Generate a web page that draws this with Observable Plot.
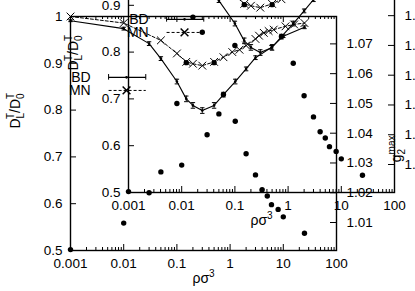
<!DOCTYPE html>
<html><head><meta charset="utf-8">
<script src="https://cdn.jsdelivr.net/npm/d3@7"></script>
<script src="https://cdn.jsdelivr.net/npm/@observablehq/plot@0.6"></script>
<style>
body{margin:0;background:#fff;}
#wrap{position:relative;width:415px;height:291px;overflow:hidden;background:#fff;}
#wrap svg{position:absolute;background:transparent;max-width:none;}
</style></head><body><div id="wrap"></div>
<script>
// D_L^T/D_0^T, Brownian dynamics (BD), with error bars
const bdRho = [0.001,0.01,0.03,0.05,0.1,0.15,0.2,0.3,0.5,0.75,1.25,2,3,6,10,25];
const bdVal = [0.991,0.974,0.942,0.910,0.861,0.824,0.810,0.799,0.810,0.833,0.861,0.888,0.912,0.934,0.958,0.977];
const bdErr = [0.002,0.003,0.004,0.004,0.005,0.006,0.006,0.006,0.006,0.005,0.005,0.004,0.004,0.004,0.003,0.003];
// D_L^T/D_0^T, MN
const mnRho = [0.001,0.01,0.05,0.1,0.15,0.2,0.3,0.5,0.75,1.1,1.5,2,3,3.5,4.3,5.3,6.6,11,16,25];
const mnVal = [1.0,0.986,0.949,0.921,0.903,0.899,0.895,0.903,0.913,0.924,0.929,0.938,0.952,0.959,0.965,0.969,0.972,0.979,0.983,0.986];
// g2^max (right axis)
const gRho = [0.001,0.01,0.03,0.05,0.1,0.15,0.2,0.3,0.5,0.75,1.25,2,3,4,5,6,8,10,25];
const gVal = [1.0009,1.0098,1.020,1.027,1.050,1.0637,1.0790,1.0739,1.0637,1.053,1.044,1.0331,1.026,1.021,1.0189,1.016,1.0144,1.0119,1.0064];
// ticks
const xTicks = [0.001,0.01,0.1,1,10,100];
const xTickLabels = ["0.001","0.01","0.1","1","10","100"];
const yTicks = [0.5,0.6,0.7,0.8,0.9,1];
const yTickLabels = ["0.5","0.6","0.7","0.8","0.9","1"];
const gTicks = [1.01,1.02,1.03,1.04,1.05,1.06,1.07];
const gTickLabels = ["1.01","1.02","1.03","1.04","1.05","1.06","1.07"];
const gDomain = [1.0006,1.0792];
const yDomain = [0.5,1];
// legend
const keyLabels = ["BD","MN"];
const keyY = [0.870,0.842];
const keyTextX = 0.0024, keyX1 = 0.0052, keyXm = 0.0113, keyX2 = 0.026;

const toY = g => yDomain[0] + (g - gDomain[0]) / (gDomain[1] - gDomain[0]) * (yDomain[1] - yDomain[0]);
const bd = bdRho.map((r,i)=>({rho:r, v:bdVal[i], e:bdErr[i]}));
const mn = mnRho.map((r,i)=>({rho:r, v:mnVal[i]}));
const g2 = gRho.map((r,i)=>({rho:r, g:gVal[i]}));
const xMinor = [];
for (let e=-3;e<2;e++) for (let k=2;k<10;k++) xMinor.push(k*Math.pow(10,e));

const W=415,H=291,mL=70,mR=79,mT=16,mB=41;
const fW=W-mL-mR, fH=H-mT-mB;

function chart(){
  const p = Plot.plot({
    width:W,height:H,marginLeft:mL,marginRight:mR,marginTop:mT,marginBottom:mB,
    style:{background:"transparent",fontFamily:"'Liberation Sans', Arial, sans-serif",fontSize:"13.5px",color:"black"},
    x:{type:"log",domain:[0.001,100]},
    y:{domain:yDomain},
    marks:[
      Plot.tickX(xTicks,{x:d=>d,insetTop:fH-6,stroke:"black"}),
      Plot.tickX(xTicks,{x:d=>d,insetBottom:fH-6,stroke:"black"}),
      Plot.tickX(xMinor,{x:d=>d,insetTop:fH-3,stroke:"black"}),
      Plot.tickX(xMinor,{x:d=>d,insetBottom:fH-3,stroke:"black"}),
      Plot.tickY(yTicks,{y:d=>d,insetRight:fW-6,stroke:"black"}),
      Plot.tickY(gTicks,{y:d=>toY(d),insetLeft:fW-6,stroke:"black"}),
      Plot.frame({stroke:"black",strokeWidth:1.4}),
      Plot.axisX(xTicks,{tickSize:0,tickPadding:8,tickFormat:d=>xTickLabels[xTicks.indexOf(d)],label:null,fill:"black"}),
      Plot.axisY(yTicks,{anchor:"left",tickSize:0,tickPadding:8,tickFormat:d=>yTickLabels[yTicks.indexOf(d)],label:null,fill:"black"}),
      Plot.axisY(gTicks.map(toY),{anchor:"right",tickSize:0,tickPadding:10,tickFormat:d=>gTickLabels[gTicks.findIndex(t=>Math.abs(toY(t)-d)<1e-9)],label:null,fill:"black"}),
      // BD
      Plot.line(bd,{x:"rho",y:"v",stroke:"black",strokeWidth:1.1}),
      Plot.ruleX(bd,{x:"rho",y1:d=>d.v-d.e,y2:d=>d.v+d.e,stroke:"black"}),
      Plot.link(bd,{x1:d=>d.rho/1.1,x2:d=>d.rho*1.1,y1:d=>d.v-d.e,y2:d=>d.v-d.e,stroke:"black"}),
      Plot.link(bd,{x1:d=>d.rho/1.1,x2:d=>d.rho*1.1,y1:d=>d.v+d.e,y2:d=>d.v+d.e,stroke:"black"}),
      Plot.dot(bd,{x:"rho",y:"v",r:1.3,fill:"black"}),
      // MN
      Plot.line(mn,{x:"rho",y:"v",stroke:"black",strokeWidth:1,strokeDasharray:"3,2"}),
      Plot.dot(mn,{x:"rho",y:"v",symbol:"times",r:3.6,stroke:"black",strokeWidth:1}),
      // g2max
      Plot.dot(g2,{x:"rho",y:d=>toY(d.g),r:2.7,fill:"black"}),
      // legend
      Plot.text(keyLabels,{x:()=>keyTextX,y:(d,i)=>keyY[i],text:d=>d,textAnchor:"end",fill:"black",fontSize:14}),
      Plot.link([0],{x1:()=>keyX1,x2:()=>keyX2,y1:()=>keyY[0],y2:()=>keyY[0],stroke:"black",strokeWidth:1.1}),
      Plot.ruleX([keyX1,keyX2],{x:d=>d,y1:keyY[0]-0.006,y2:keyY[0]+0.006,stroke:"black"}),
      Plot.dot([0],{x:()=>keyXm,y:()=>keyY[0],r:1.3,fill:"black"}),
      Plot.link([0],{x1:()=>keyX1,x2:()=>keyX2,y1:()=>keyY[1],y2:()=>keyY[1],stroke:"black",strokeDasharray:"3,2"}),
      Plot.dot([0],{x:()=>keyXm,y:()=>keyY[1],symbol:"times",r:3.6,stroke:"black"}),
      // axis titles
      Plot.text(["XLAB"],{frameAnchor:"bottom",dy:32,text:d=>d,fill:"black",fontSize:14}),
      Plot.text(["YLAB"],{frameAnchor:"left",dx:-55,dy:-5,rotate:-90,text:d=>d,fill:"black",fontSize:14}),
      Plot.text(["GLAB"],{frameAnchor:"right",dx:60,dy:2,rotate:-90,text:d=>d,fill:"black",fontSize:14})
    ]
  });
  const sel = d3.select(p);
  sel.selectAll("text").each(function(){
    const t = d3.select(this), s = this.textContent;
    if (s==="XLAB"){
      this.textContent="";
      t.append("tspan").text("ρσ");
      t.append("tspan").attr("font-size","10px").attr("dy","-6").text("3");
    } else if (s==="YLAB"){
      this.textContent="";
      t.append("tspan").text("D");
      t.append("tspan").attr("font-size","10px").attr("dy","4").text("L");
      t.append("tspan").attr("font-size","10px").attr("dx","-5.5").attr("dy","-10").text("T");
      t.append("tspan").attr("dy","6").text("/D");
      t.append("tspan").attr("font-size","10px").attr("dy","4").text("0");
      t.append("tspan").attr("font-size","10px").attr("dx","-5.5").attr("dy","-10").text("T");
    } else if (s==="GLAB"){
      this.textContent="";
      t.append("tspan").text("g");
      t.append("tspan").attr("font-size","10px").attr("dy","4").text("2");
      t.append("tspan").attr("font-size","10px").attr("dx","-5.5").attr("dy","-10").text("max");
    }
  });
  return p;
}

const wrap = document.getElementById("wrap");
const a = chart(); a.style.left="0px"; a.style.top="0px"; wrap.appendChild(a);
const b = chart(); b.style.left="58px"; b.style.top="-58px"; wrap.appendChild(b);
</script></body></html>
